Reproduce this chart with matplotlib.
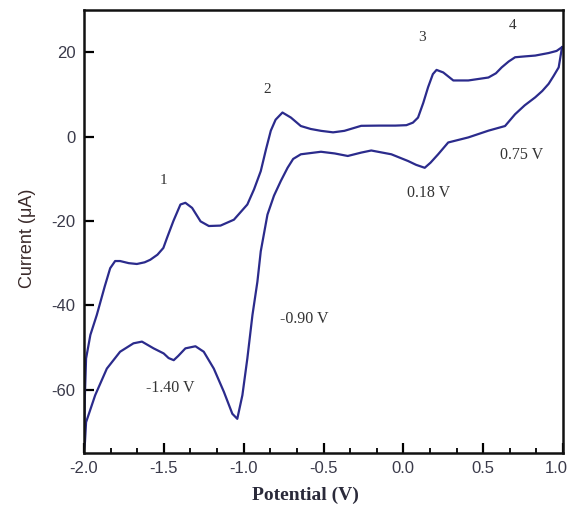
import matplotlib
matplotlib.use("Agg")
import matplotlib.pyplot as plt
from matplotlib.ticker import MultipleLocator
import matplotlib.transforms as mtransforms

# Forward (anodic) scan: -2.0 V -> 1.0 V
fwd_v = [-2.0, -1.995, -1.987, -1.96, -1.92, -1.87, -1.836, -1.805, -1.774, -1.72, -1.669,
         -1.62, -1.585, -1.54, -1.503, -1.48, -1.44, -1.396, -1.365, -1.323, -1.27, -1.218,
         -1.145, -1.061, -0.977, -0.935, -0.893, -0.86, -0.83, -0.80, -0.757, -0.704, -0.642,
         -0.58, -0.516, -0.44, -0.369, -0.264, -0.15, -0.05, 0.019, 0.06, 0.092, 0.125, 0.155,
         0.185, 0.208, 0.25, 0.313, 0.407, 0.533, 0.58, 0.616, 0.66, 0.70, 0.76, 0.826,
         0.91, 0.96, 0.994]
fwd_i = [-74.0, -62.0, -52.6, -47.0, -42.3, -35.5, -31.2, -29.5, -29.5, -30.0, -30.2,
         -29.8, -29.2, -28.0, -26.4, -24.0, -20.0, -16.1, -15.7, -16.9, -20.1, -21.2,
         -21.1, -19.7, -16.1, -12.5, -8.2, -3.0, 1.4, 4.0, 5.7, 4.5, 2.5,
         1.8, 1.36, 1.0, 1.36, 2.55, 2.6, 2.6, 2.7, 3.3, 4.5, 8.0, 11.7,
         14.8, 15.8, 15.2, 13.3, 13.3, 14.0, 15.0, 16.4, 17.8, 18.8, 19.0, 19.2,
         19.8, 20.3, 21.2]

# Reverse (cathodic) scan: 1.0 V -> -2.0 V
rev_v = [0.994, 0.973, 0.94, 0.91, 0.87, 0.826, 0.76, 0.70, 0.637, 0.533, 0.407, 0.281,
         0.218, 0.17, 0.134, 0.08, 0.03, -0.075, -0.201, -0.264, -0.348, -0.43, -0.516,
         -0.642, -0.69, -0.725, -0.767, -0.81, -0.851, -0.893, -0.914, -0.945, -0.977,
         -1.008, -1.04, -1.071, -1.124, -1.187, -1.25, -1.302, -1.365, -1.41, -1.438,
         -1.47, -1.501, -1.564, -1.637, -1.69, -1.774, -1.857, -1.93, -1.987, -1.994, -2.0]
rev_i = [21.2, 16.4, 14.3, 12.5, 10.8, 9.3, 7.4, 5.3, 2.5, 1.4, -0.2, -1.4,
         -4.2, -6.2, -7.4, -6.7, -5.8, -4.2, -3.3, -3.8, -4.6, -4.0, -3.6,
         -4.2, -5.3, -7.4, -10.5, -14.0, -18.5, -27.2, -34.4, -42.3, -52.6,
         -61.3, -66.9, -65.7, -60.5, -55.0, -51.0, -49.7, -50.2, -52.0, -53.0,
         -52.5, -51.4, -50.2, -48.6, -49.0, -51.0, -55.0, -61.3, -67.7, -72.4, -74.0]

peak_labels = ["1", "2", "3", "4"]
peak_pos = [(-1.503, -10.5), (-0.855, 11.2), (0.12, 23.6), (0.686, 26.4)]
pot_labels = ["-1.40 V", "-0.90 V", "0.18 V", "0.75 V"]
pot_pos = [(-1.459, -59.5), (-0.623, -43.3), (0.157, -13.3), (0.742, -4.3)]

xticks = [-2.0, -1.5, -1.0, -0.5, 0.0, 0.5, 1.0]
yticks = [-60, -40, -20, 0, 20]

fig = plt.figure(figsize=(5.70, 5.09), dpi=100)
ax = fig.add_axes([84/570, 1-453/509, (563-84)/570, (453-10)/509])

line_color = "#2b2b8c"
ax.plot(fwd_v, fwd_i, color=line_color, lw=1.6, solid_joinstyle="round")
ax.plot(rev_v, rev_i, color=line_color, lw=1.6, solid_joinstyle="round")

ax.set_xlim(-2.0, 1.0)
ax.set_ylim(-75, 30)
ax.set_xticks(xticks)
ax.set_xticklabels([f"{t:.1f}" for t in xticks])
ax.set_yticks(yticks)
ax.set_yticklabels([str(t) for t in yticks])
ax.xaxis.set_minor_locator(MultipleLocator(0.5/3))

for s in ax.spines.values():
    s.set_linewidth(1.8)
    s.set_color("#111111")

ax.tick_params(axis="both", which="major", direction="in", length=7, width=1.6,
               labelsize=12, labelcolor="#3a3a4a", top=False, right=False, pad=6)
ax.tick_params(axis="x", which="minor", direction="in", length=3.5, width=1.3,
               top=False)
for lab in ax.get_xticklabels() + ax.get_yticklabels():
    lab.set_family("Liberation Sans")
# keep the last x tick label inside the image, as in the reference
last = ax.get_xticklabels()[-1]
last.set_transform(last.get_transform() +
                   mtransforms.ScaledTranslation(-7/100, 0, fig.dpi_scale_trans))

serif = "Liberation Serif"
ax.set_xlabel("Potential (V)", family=serif, fontsize=14, fontweight="bold",
              color="#2a2a3a", va="center")
ax.xaxis.set_label_coords((305-84)/479, (453-495)/443)
ax.set_ylabel("Current (\u03bcA)", family="Liberation Sans", fontsize=13,
              color="#3a2a2a", va="center")
ax.yaxis.set_label_coords((28-84)/479, (453-238)/443)

for lbl, (x, y) in zip(peak_labels, peak_pos):
    ax.text(x, y, lbl, family=serif, fontsize=11, color="#333333", ha="center", va="center")
for lbl, (x, y) in zip(pot_labels, pot_pos):
    ax.text(x, y, lbl, family=serif, fontsize=11.5, color="#333333", ha="center", va="center")

fig.savefig("out.png", dpi=100)
